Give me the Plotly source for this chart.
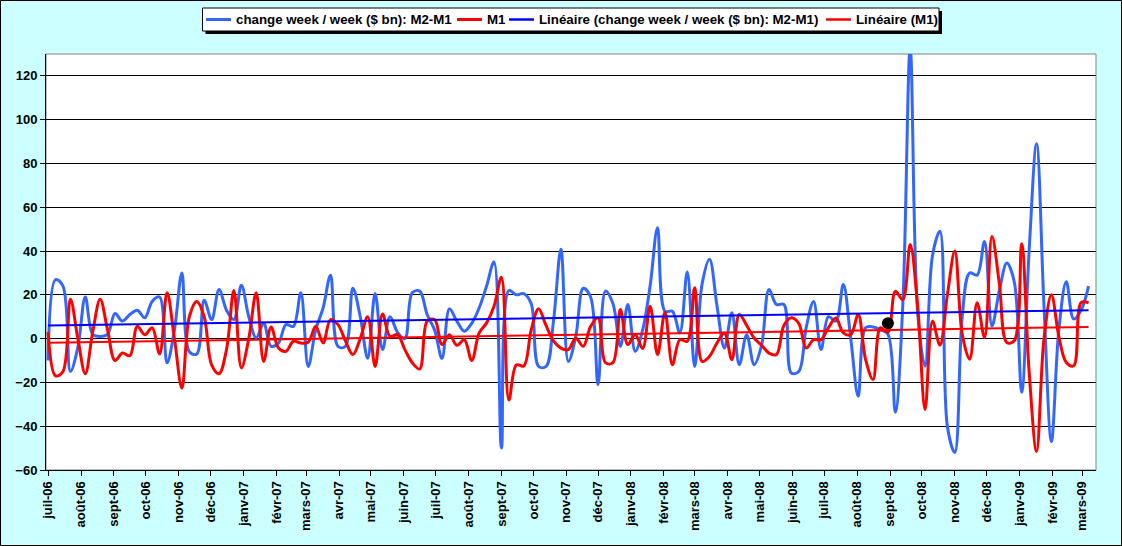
import numpy as np
import pandas as pd
import plotly.graph_objects as go

# Weekly changes ($ bn), one value per week from early July 2006
m2_m1 = [
    -10, 27, 24, -15, -4, 19, 2, 1, 2, 11.5,
    8, 11, 13, 9.5, 17, 19, -11, 4, 30, -6,
    -7, 17.5, 8.7, 22.4, 13, 8.7, 24.4, 10, 0.3, 7,
    -3.5, -2, 6.4, 5.6, 21, -12.7, 4, 14, 29, -3.5,
    -3.5, 23, 10, -9, 20.6, -5, 10, 3, 0, 21,
    21.7, 11, 4, -9, 13.6, 8, 3.4, 7, 14, 24,
    35, -50, 22, 20, 20.6, 16, -12.7, -12.7, 8, 40.8,
    -10.4, 1, 23, 19, -21, 21.7, 16, -3.5, 15.6, -5.8,
    4, 24, 50.7, 12.5, 12.5, 2.6, 30.4, -12.7, 25, 36.2,
    15, -4.3, 11.8, -11.9, 1.8, -11.9, -3, 22.4, 15.6, 15.6,
    -15.7, -15, 5, 17, -5, 10, 8, 24.7, 0, -26.3,
    5, 5.3, 4, 2, -33.6, 15, 133, 12, -12.6, 38,
    49, -40, -52, 10, 30, 29, 44.4, 5.8, 22, 34.5,
    26, -24.5, 40, 89, 15, -47, 4, 26, 9, 13,
    24,
]
m1 = [
    3, -17, -15, 18, 0, -16, 3, 18, 4, -10,
    -6.6, -7.8, 5.6, 1.8, 5, -7, 21, 0, -22.6, 10,
    17, 10, -12, -16, -5, 22, -13.4, 0, 21, -10.4,
    5.3, -4.3, -5.8, -1.2, -2, -1.7, 5.6, -2, 8.7, 6.4,
    -1, -7.3, 0, 10, -12.7, 11.3, 1, 1.8, -5, -11,
    -13.9, 8, 8.7, -2.7, 1.8, -3, -0.5, -10, 2.6, 7.2,
    14.8, 28, -28, -12, -12.5, 4, 13.6, 6, -1, -4.3,
    -5, 0.3, -3.5, 5.6, 9.5, -11, -11, 13.3, -2.7, 1.8,
    -4.5, 14.8, -7.3, 12, -11.9, -0.5, -1.2, 23.2, -10.4, -8,
    -2, 2.6, -9.6, 11, 6, 0.3, -3, -6.6, -7.3, 6,
    9.5, 7, -4.3, -0.5, -0.5, 5, 9.4, 2.6, 1.8, 11,
    -9.6, -18.7, 5, 2.9, 21.6, 17.8, 43, 15, -32.4, 8,
    -3, 20, 40, 2, -9.4, 16.4, 0.5, 46.6, 25, -1.8,
    -1, 43.3, -15, -51.5, 0, 20, 1, -10.9, -12.4, 16.4,
    16.4,
]
weeks = pd.date_range("2006-07-03", periods=len(m1), freq="7D")

# highlighted point (black dot)
dot_date = ["2008-09-01"]
dot_value = [7]

month_labels = [
    "juil-06", "août-06", "sept-06", "oct-06", "nov-06", "déc-06",
    "janv-07", "févr-07", "mars-07", "avr-07", "mai-07", "juin-07",
    "juil-07", "août-07", "sept-07", "oct-07", "nov-07", "déc-07",
    "janv-08", "févr-08", "mars-08", "avr-08", "mai-08", "juin-08",
    "juil-08", "août-08", "sept-08", "oct-08", "nov-08", "déc-08",
    "janv-09", "févr-09", "mars-09",
]
month_ticks = pd.date_range("2006-07-03", periods=len(month_labels),
                            freq=pd.DateOffset(months=1))

name_a = "change week / week ($ bn): M2-M1"
name_b = "M1"
legend_names = [name_a, name_b, "Linéaire (" + name_a + ")", "Linéaire (" + name_b + ")"]
colors = ["#3366FF", "#FF0000", "#0000FF", "#FF0000"]
widths = [3, 3, 2, 2]

W, H = 1122, 546
ML, MR, MT, MB = 46, 26, 54, 76


def linear_trend(values):
    # same thing as Excel's "Linéaire" trendline
    t = np.arange(len(values))
    coef = np.polyfit(t, values, 1)
    return np.polyval(coef, t)


def px_x(px):
    # pixel column -> paper x
    return (px - ML) / (W - ML - MR)


def px_y(py):
    # pixel row -> paper y
    return (H - MB - py) / (H - MT - MB)


fig = go.Figure()

series = [m2_m1, m1, linear_trend(m2_m1), linear_trend(m1)]
for i, ys in enumerate(series):
    fig.add_trace(go.Scatter(
        x=weeks, y=ys, name=legend_names[i], mode="lines",
        line=dict(color=colors[i], width=widths[i],
                  shape="spline" if i < 2 else "linear"),
    ))
fig.add_trace(go.Scatter(x=dot_date, y=dot_value, mode="markers",
                         marker=dict(color="black", size=12), hoverinfo="skip"))

bold = dict(family="Liberation Sans, Arial", size=13, color="black", weight="bold")

fig.update_layout(
    width=W,
    height=H,
    paper_bgcolor="#CCFFFF",
    plot_bgcolor="white",
    font=bold,
    margin=dict(l=ML, r=MR, t=MT, b=MB, autoexpand=False),
    showlegend=False,
)

fig.update_xaxes(
    type="date",
    range=["2006-07-01", "2009-03-16"],
    tickvals=month_ticks,
    ticktext=month_labels,
    tickangle=-90,
    tickfont=bold,
    ticks="outside",
    ticklen=5,
    tickcolor="black",
    showline=True,
    linecolor="black",
    linewidth=1,
    showgrid=False,
    zeroline=False,
)

fig.update_yaxes(
    range=[-60, 130],
    tick0=-60,
    dtick=20,
    tickfont=bold,
    ticks="outside",
    ticklen=5,
    tickcolor="black",
    showline=True,
    linecolor="black",
    linewidth=1,
    showgrid=True,
    gridcolor="black",
    gridwidth=1,
    zeroline=False,
)

# grey plot-area frame and black outer chart border
fig.add_shape(type="rect", xref="paper", yref="paper", x0=0, x1=1, y0=0, y1=1,
              line=dict(color="#808080", width=1), layer="below")
fig.add_shape(type="rect", xref="paper", yref="paper",
              x0=px_x(0.5), x1=px_x(W - 0.5), y0=px_y(H - 0.5), y1=px_y(0.5),
              line=dict(color="black", width=1), layer="below")

# Excel-style legend box with drop shadow, drawn by hand
fig.add_shape(type="rect", xref="paper", yref="paper",
              x0=px_x(205.5), x1=px_x(942), y0=px_y(34), y1=px_y(11),
              fillcolor="black", line=dict(width=0))
fig.add_shape(type="rect", xref="paper", yref="paper",
              x0=px_x(202.5), x1=px_x(939), y0=px_y(31), y1=px_y(8),
              fillcolor="white", line=dict(color="black", width=1))
key_starts = [206, 457, 509, 826]
for i, name in enumerate(legend_names):
    x0 = key_starts[i]
    fig.add_shape(type="line", xref="paper", yref="paper",
                  x0=px_x(x0), x1=px_x(x0 + 25), y0=px_y(19.5), y1=px_y(19.5),
                  line=dict(color=colors[i], width=3 if i < 2 else 2.5))
    fig.add_annotation(text=name, xref="paper", yref="paper",
                       x=px_x(x0 + 28), y=px_y(19.5),
                       xanchor="left", yanchor="middle", showarrow=False,
                       font=dict(bold, size=13.3))

# drop the browser's default 8px page margin so the chart sits at the corner
fig.write_html("out.html", config={"displayModeBar": False},
               post_script="document.body.style.margin='0';")
